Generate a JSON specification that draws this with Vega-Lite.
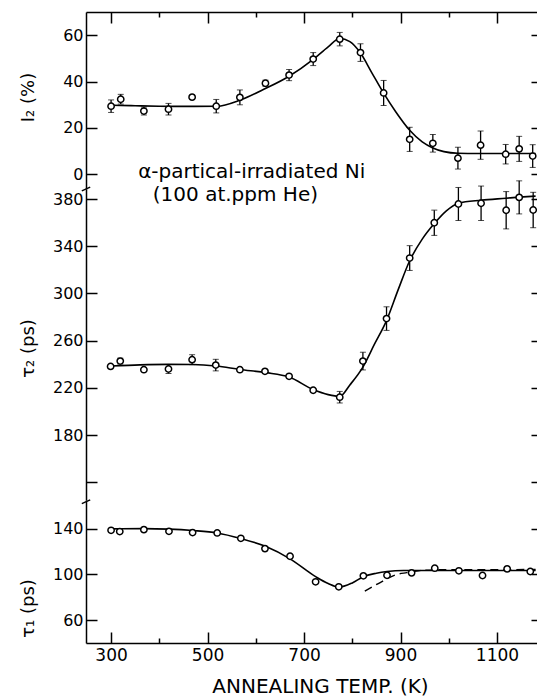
{
  "$schema": "https://vega.github.io/schema/vega-lite/v6.json",
  "autosize": {"type": "none"},
  "padding": {"left": 86, "top": 12, "right": 451, "bottom": 684},
  "spacing": 0,
  "bounds": "flush",
  "config": {
    "view": {"stroke": null},
    "font": "DejaVu Sans",
    "axis": {
      "domainColor": "black", "domainWidth": 1.5, "tickColor": "black", "tickWidth": 1.5,
      "labelColor": "black", "labelFont": "DejaVu Sans", "labelFontSize": 16,
      "titleColor": "black", "titleFont": "DejaVu Sans", "titleFontWeight": "normal", "grid": false
    }
  },
  "datasets": {
    "i2": [
      {"T": 300, "v": 29.4, "e": 2.7}, {"T": 320, "v": 32.4, "e": 2.1}, {"T": 368, "v": 27.3, "e": 1.7},
      {"T": 419, "v": 28.1, "e": 2.5}, {"T": 468, "v": 33.3, "e": 0}, {"T": 518, "v": 29.4, "e": 2.9},
      {"T": 567, "v": 33.2, "e": 3.2}, {"T": 620, "v": 39.3, "e": 1.3}, {"T": 669, "v": 42.8, "e": 2.4},
      {"T": 719, "v": 49.7, "e": 2.8}, {"T": 774, "v": 58.3, "e": 2.9}, {"T": 817, "v": 52.5, "e": 3.8},
      {"T": 865, "v": 35.1, "e": 5.4}, {"T": 919, "v": 15.1, "e": 5.2}, {"T": 967, "v": 13.4, "e": 3.8},
      {"T": 1019, "v": 7.0, "e": 4.7}, {"T": 1066, "v": 12.6, "e": 6.1}, {"T": 1118, "v": 8.7, "e": 4.2},
      {"T": 1146, "v": 11.0, "e": 5.4}, {"T": 1174, "v": 7.9, "e": 4.9}
    ],
    "i2fit": [
      {"T": 300, "v": 29.8}, {"T": 350, "v": 29.6}, {"T": 400, "v": 29.4}, {"T": 450, "v": 29.3},
      {"T": 520, "v": 29.4}, {"T": 567, "v": 32.0}, {"T": 620, "v": 37.0}, {"T": 669, "v": 42.3},
      {"T": 719, "v": 49.6}, {"T": 750, "v": 55.0}, {"T": 774, "v": 58.6}, {"T": 795, "v": 57.2},
      {"T": 817, "v": 52.3}, {"T": 840, "v": 44.0}, {"T": 865, "v": 35.0}, {"T": 890, "v": 27.0},
      {"T": 919, "v": 19.0}, {"T": 945, "v": 14.0}, {"T": 967, "v": 11.4}, {"T": 990, "v": 9.8},
      {"T": 1019, "v": 9.1}, {"T": 1060, "v": 9.0}, {"T": 1180, "v": 9.0}
    ],
    "t2": [
      {"T": 299, "v": 238.2, "e": 0}, {"T": 319, "v": 242.7, "e": 2.5}, {"T": 368, "v": 235.4, "e": 0},
      {"T": 419, "v": 236.0, "e": 3.8}, {"T": 468, "v": 243.9, "e": 4.2}, {"T": 517, "v": 239.3, "e": 4.9},
      {"T": 567, "v": 235.4, "e": 0}, {"T": 619, "v": 234.0, "e": 0}, {"T": 669, "v": 229.8, "e": 0},
      {"T": 719, "v": 218.0, "e": 0}, {"T": 774, "v": 212.1, "e": 4.9}, {"T": 822, "v": 242.7, "e": 7.5},
      {"T": 871, "v": 278.7, "e": 10.0}, {"T": 919, "v": 330.0, "e": 10.5}, {"T": 970, "v": 359.9, "e": 10.7},
      {"T": 1020, "v": 375.8, "e": 14.0}, {"T": 1067, "v": 376.4, "e": 14.6}, {"T": 1119, "v": 370.5, "e": 15.8},
      {"T": 1146, "v": 381.4, "e": 14.0}, {"T": 1175, "v": 370.7, "e": 15.0}
    ],
    "t2fit": [
      {"T": 300, "v": 238.5}, {"T": 360, "v": 239.5}, {"T": 419, "v": 239.9}, {"T": 470, "v": 239.8},
      {"T": 518, "v": 238.5}, {"T": 567, "v": 235.6}, {"T": 621, "v": 232.9}, {"T": 669, "v": 229.2},
      {"T": 719, "v": 218.6}, {"T": 750, "v": 214.3}, {"T": 774, "v": 212.8}, {"T": 795, "v": 222.5},
      {"T": 822, "v": 237.6}, {"T": 846, "v": 257.0}, {"T": 871, "v": 277.0}, {"T": 895, "v": 303.0},
      {"T": 919, "v": 327.7}, {"T": 945, "v": 346.0}, {"T": 970, "v": 359.2}, {"T": 995, "v": 370.0},
      {"T": 1020, "v": 376.5}, {"T": 1067, "v": 379.0}, {"T": 1119, "v": 380.7}, {"T": 1146, "v": 381.6},
      {"T": 1180, "v": 382.5}
    ],
    "t1": [
      {"T": 300, "v": 138.5}, {"T": 318, "v": 137.4}, {"T": 368, "v": 139.1}, {"T": 420, "v": 137.6},
      {"T": 469, "v": 136.5}, {"T": 520, "v": 136.2}, {"T": 569, "v": 131.5}, {"T": 619, "v": 122.5},
      {"T": 671, "v": 115.8}, {"T": 724, "v": 93.5}, {"T": 772, "v": 89.1}, {"T": 823, "v": 98.7},
      {"T": 872, "v": 99.2}, {"T": 923, "v": 101.3}, {"T": 971, "v": 105.4}, {"T": 1021, "v": 103.1},
      {"T": 1070, "v": 99.0}, {"T": 1121, "v": 104.8}, {"T": 1169, "v": 102.5}
    ],
    "t1fit": [
      {"T": 300, "v": 139.8}, {"T": 368, "v": 140.0}, {"T": 420, "v": 139.5}, {"T": 469, "v": 138.3},
      {"T": 520, "v": 136.2}, {"T": 569, "v": 131.3}, {"T": 620, "v": 124.5}, {"T": 671, "v": 113.5},
      {"T": 724, "v": 98.0}, {"T": 750, "v": 92.0}, {"T": 772, "v": 88.8}, {"T": 800, "v": 92.5},
      {"T": 823, "v": 98.0}, {"T": 850, "v": 101.0}, {"T": 872, "v": 102.5}, {"T": 906, "v": 103.4},
      {"T": 1000, "v": 103.4}, {"T": 1180, "v": 103.4}
    ],
    "t1dash": [
      {"T": 826, "v": 85.3}, {"T": 854, "v": 92.0}, {"T": 892, "v": 99.9}, {"T": 913, "v": 101.5},
      {"T": 940, "v": 103.3}, {"T": 980, "v": 104.0}, {"T": 1180, "v": 104.2}
    ]
  },
  "vconcat": [
    {
      "width": 452, "height": 177,
      "layer": [
        {
          "data": {"name": "i2fit"},
          "mark": {"type": "line", "interpolate": "monotone", "color": "black", "strokeWidth": 1.6},
          "encoding": {
            "x": {"field": "T", "type": "quantitative", "scale": {"domain": [248, 1185], "nice": false, "zero": false},
              "axis": {"orient": "top", "values": [300, 400, 500, 600, 700, 800, 900, 1000, 1100], "labels": false, "title": null,
                "tickSize": {"condition": {"test": "datum.value % 200 === 100", "value": -11}, "value": -5}}},
            "y": {"field": "v", "type": "quantitative", "scale": {"domain": [-6.3, 70], "nice": false, "zero": false},
              "axis": {"orient": "left", "values": [0, 20, 40, 60], "tickSize": -11, "labelPadding": 14, "title": "I₂ (%)",
                "titleFontSize": 18, "titleX": -58, "titleY": 85, "titleAngle": -90, "titleBaseline": "middle", "titleAlign": "center"}}
          }
        },
        {
          "data": {"name": "i2"},
          "mark": {"type": "errorbar", "ticks": {"size": 6, "color": "black", "strokeWidth": 1.3}, "rule": {"color": "black", "strokeWidth": 1.3}},
          "encoding": {
            "x": {"field": "T", "type": "quantitative", "scale": {"domain": [248, 1185], "nice": false, "zero": false}, "axis": null},
            "y": {"field": "v", "type": "quantitative", "scale": {"domain": [-6.3, 70], "nice": false, "zero": false}, "axis": null},
            "yError": {"field": "e"}
          }
        },
        {
          "data": {"name": "i2"},
          "mark": {"type": "point", "shape": "circle", "filled": true, "fill": "white", "stroke": "black", "strokeWidth": 1.5, "size": 40, "opacity": 1},
          "encoding": {
            "x": {"field": "T", "type": "quantitative", "scale": {"domain": [248, 1185], "nice": false, "zero": false}, "axis": null},
            "y": {"field": "v", "type": "quantitative", "scale": {"domain": [-6.3, 70], "nice": false, "zero": false},
              "axis": {"orient": "right", "values": [0, 20, 40, 60], "tickSize": -7, "labels": false, "domain": false, "title": null}}
          }
        },
        {
          "data": {"values": [{}]},
          "mark": {"type": "text", "align": "center", "baseline": "alphabetic", "fontSize": 20, "font": "DejaVu Sans", "color": "black"},
          "encoding": {
            "x": {"datum": 591.5, "type": "quantitative", "scale": {"domain": [248, 1185], "nice": false, "zero": false}, "axis": null},
            "y": {"datum": -1.6, "type": "quantitative", "scale": {"domain": [-6.3, 70], "nice": false, "zero": false}, "axis": null},
            "text": {"value": "α-partical-irradiated Ni"}
          }
        },
        {
          "data": {"values": [{}]},
          "mark": {"type": "point", "shape": "M -1 0.45 L 1 -0.45", "size": 70, "stroke": "black", "strokeWidth": 1.5, "filled": false, "opacity": 1, "clip": false},
          "encoding": {
            "x": {"datum": 248, "type": "quantitative", "scale": {"domain": [248, 1185], "nice": false, "zero": false}, "axis": null},
            "y": {"datum": -6.3, "type": "quantitative", "scale": {"domain": [-6.3, 70], "nice": false, "zero": false}, "axis": null}
          }
        }
      ],
      "resolve": {"axis": {"x": "independent", "y": "independent"}}
    },
    {
      "width": 452, "height": 311,
      "layer": [
        {
          "data": {"name": "t2fit"},
          "mark": {"type": "line", "interpolate": "monotone", "color": "black", "strokeWidth": 1.6},
          "encoding": {
            "x": {"field": "T", "type": "quantitative", "scale": {"domain": [248, 1185], "nice": false, "zero": false}, "axis": null},
            "y": {"field": "v", "type": "quantitative", "scale": {"domain": [125, 388.5], "nice": false, "zero": false},
              "axis": {"orient": "left", "values": [140, 180, 220, 260, 300, 340, 380], "labelExpr": "datum.value === 140 ? '' : datum.label",
                "tickSize": -11, "labelPadding": 14, "title": "τ₂ (ps)",
                "titleFontSize": 18, "titleX": -58, "titleY": 159, "titleAngle": -90, "titleBaseline": "middle", "titleAlign": "center"}}
          }
        },
        {
          "data": {"name": "t2"},
          "mark": {"type": "errorbar", "ticks": {"size": 6, "color": "black", "strokeWidth": 1.3}, "rule": {"color": "black", "strokeWidth": 1.3}},
          "encoding": {
            "x": {"field": "T", "type": "quantitative", "scale": {"domain": [248, 1185], "nice": false, "zero": false}, "axis": null},
            "y": {"field": "v", "type": "quantitative", "scale": {"domain": [125, 388.5], "nice": false, "zero": false}, "axis": null},
            "yError": {"field": "e"}
          }
        },
        {
          "data": {"name": "t2"},
          "mark": {"type": "point", "shape": "circle", "filled": true, "fill": "white", "stroke": "black", "strokeWidth": 1.5, "size": 40, "opacity": 1},
          "encoding": {
            "x": {"field": "T", "type": "quantitative", "scale": {"domain": [248, 1185], "nice": false, "zero": false}, "axis": null},
            "y": {"field": "v", "type": "quantitative", "scale": {"domain": [125, 388.5], "nice": false, "zero": false},
              "axis": {"orient": "right", "values": [140, 180, 220, 260, 300, 340, 380], "tickSize": -7, "labels": false, "domain": false, "title": null}}
          }
        },
        {
          "data": {"values": [{}]},
          "mark": {"type": "text", "align": "center", "baseline": "alphabetic", "fontSize": 20, "font": "DejaVu Sans", "color": "black"},
          "encoding": {
            "x": {"datum": 557.7, "type": "quantitative", "scale": {"domain": [248, 1185], "nice": false, "zero": false}, "axis": null},
            "y": {"datum": 378.3, "type": "quantitative", "scale": {"domain": [125, 388.5], "nice": false, "zero": false}, "axis": null},
            "text": {"value": "(100 at.ppm He)"}
          }
        }
      ],
      "resolve": {"axis": {"x": "independent", "y": "independent"}}
    },
    {
      "width": 452, "height": 143,
      "layer": [
        {
          "data": {"name": "t1fit"},
          "mark": {"type": "line", "interpolate": "monotone", "color": "black", "strokeWidth": 1.6},
          "encoding": {
            "x": {"field": "T", "type": "quantitative", "scale": {"domain": [248, 1185], "nice": false, "zero": false},
              "axis": {"orient": "bottom", "values": [300, 400, 500, 600, 700, 800, 900, 1000, 1100], "format": "d",
                "labelExpr": "datum.value % 200 === 100 ? datum.label : ''",
                "tickSize": {"condition": {"test": "datum.value % 200 === 100", "value": -11}, "value": -5},
                "labelPadding": 15, "labelFontSize": 17, "title": "ANNEALING TEMP. (K)", "titleFontSize": 20,
                "titleX": 234, "titleY": 49, "titleBaseline": "alphabetic", "titleAlign": "center"}},
            "y": {"field": "v", "type": "quantitative", "scale": {"domain": [40, 165], "nice": false, "zero": false},
              "axis": {"orient": "left", "values": [60, 100, 140], "tickSize": -11, "labelPadding": 14, "title": "τ₁ (ps)",
                "titleFontSize": 18, "titleX": -58, "titleY": 108, "titleAngle": -90, "titleBaseline": "middle", "titleAlign": "center"}}
          }
        },
        {
          "data": {"name": "t1dash"},
          "mark": {"type": "line", "interpolate": "monotone", "color": "black", "strokeWidth": 1.4, "strokeDash": [8, 5]},
          "encoding": {
            "x": {"field": "T", "type": "quantitative", "scale": {"domain": [248, 1185], "nice": false, "zero": false}, "axis": null},
            "y": {"field": "v", "type": "quantitative", "scale": {"domain": [40, 165], "nice": false, "zero": false}, "axis": null}
          }
        },
        {
          "data": {"name": "t1"},
          "mark": {"type": "point", "shape": "circle", "filled": true, "fill": "white", "stroke": "black", "strokeWidth": 1.5, "size": 40, "opacity": 1},
          "encoding": {
            "x": {"field": "T", "type": "quantitative", "scale": {"domain": [248, 1185], "nice": false, "zero": false}, "axis": null},
            "y": {"field": "v", "type": "quantitative", "scale": {"domain": [40, 165], "nice": false, "zero": false},
              "axis": {"orient": "right", "values": [60, 100, 140], "tickSize": -7, "labels": false, "domain": false, "title": null}}
          }
        },
        {
          "data": {"values": [{}]},
          "mark": {"type": "point", "shape": "M -1 0.45 L 1 -0.45", "size": 70, "stroke": "black", "strokeWidth": 1.5, "filled": false, "opacity": 1, "clip": false},
          "encoding": {
            "x": {"datum": 248, "type": "quantitative", "scale": {"domain": [248, 1185], "nice": false, "zero": false}, "axis": null},
            "y": {"datum": 163.5, "type": "quantitative", "scale": {"domain": [40, 165], "nice": false, "zero": false}, "axis": null}
          }
        }
      ],
      "resolve": {"axis": {"x": "independent", "y": "independent"}}
    }
  ]
}
